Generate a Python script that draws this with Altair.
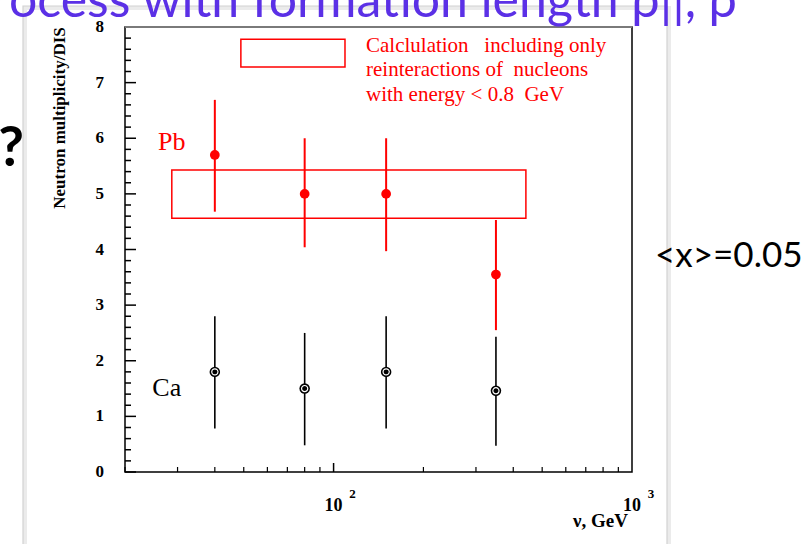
import altair as alt
import pandas as pd

# Neutron multiplicity per DIS event versus virtual photon energy nu
nu = [40, 80, 150, 350]
pb_mult = [5.70, 5.00, 5.00, 3.55]
pb_low = [4.68, 4.04, 3.97, 2.55]
pb_high = [6.69, 6.00, 6.00, 4.53]
ca_mult = [1.80, 1.50, 1.80, 1.46]
ca_low = [0.78, 0.48, 0.78, 0.47]
ca_high = [2.80, 2.50, 2.80, 2.43]

# Calculation band (only reinteractions of nucleons with E < 0.8 GeV)
band_nu = [28.7, 441.0]
band_mult = [4.56, 5.43]

# Legend sample box and its text
legend_box_nu = [48.9, 109.2]
legend_box_mult = [7.28, 7.78]
legend_lines = ["Calclulation\u00a0\u00a0\u00a0including only",
                "reinteractions of\u00a0\u00a0nucleons",
                "with energy < 0.8\u00a0\u00a0GeV"]
legend_line_mult = [7.66, 7.23, 6.78]
legend_text_nu = 128.4

# Target labels
target_names = ["Pb", "Ca"]
target_nu = [25.8, 24.7]
target_mult = [5.93, 1.51]
target_colors = ["red", "black"]

# Axis ticks and labels
y_major = list(range(0, 9))
y_minor = [i / 5 for i in range(41) if i % 5]
y_labels = list(range(0, 9))
x_major = [100]
x_minor = [20, 30, 40, 50, 60, 70, 80, 90, 200, 300, 400, 500, 600, 700, 800, 900]
decade_nu = [100, 1000]
decade_base = ["10", "10"]
decade_exp = ["2", "3"]

W, H = 507, 445
SERIF = "Liberation Serif"

points = pd.DataFrame({"nu": nu, "pb": pb_mult, "pb_lo": pb_low, "pb_hi": pb_high,
                       "ca": ca_mult, "ca_lo": ca_low, "ca_hi": ca_high})
band = pd.DataFrame({"x1": [band_nu[0]], "x2": [band_nu[1]],
                     "y1": [band_mult[0]], "y2": [band_mult[1]]})
lbox = pd.DataFrame({"x1": [legend_box_nu[0]], "x2": [legend_box_nu[1]],
                     "y1": [legend_box_mult[0]], "y2": [legend_box_mult[1]]})
ltext = pd.DataFrame({"t": legend_lines, "y": legend_line_mult,
                      "x": [legend_text_nu] * len(legend_lines)})
targets = pd.DataFrame({"t": target_names, "x": target_nu, "y": target_mult, "c": target_colors})
ymaj = pd.DataFrame({"v": y_major})
ymin = pd.DataFrame({"v": y_minor})
ylab = pd.DataFrame({"v": y_labels, "t": [str(v) for v in y_labels]})
xmaj = pd.DataFrame({"v": x_major})
xmin = pd.DataFrame({"v": x_minor})
decades = pd.DataFrame({"v": decade_nu, "b": decade_base, "e": decade_exp})
one = pd.DataFrame({"a": [0]})

xs = alt.Scale(type="log", domain=[20, 1000], nice=False)
ys = alt.Scale(domain=[0, 8], nice=False, zero=False)

# slide panel behind the figure
panel_shadow = alt.Chart(one).mark_rect(fillOpacity=0, stroke="#ebebeb", strokeWidth=4).encode(
    x=alt.value(-100), x2=alt.value(544), y=alt.value(-19), y2=alt.value(560))
panel = alt.Chart(one).mark_rect(fillOpacity=0, stroke="#d2d2d2", strokeWidth=1.2).encode(
    x=alt.value(-102), x2=alt.value(542), y=alt.value(-21), y2=alt.value(560))

band_rect = alt.Chart(band).mark_rect(fillOpacity=0, stroke="red", strokeWidth=1.5).encode(
    x=alt.X("x1:Q", scale=xs, axis=None), x2="x2:Q",
    y=alt.Y("y1:Q", scale=ys, axis=None), y2="y2:Q")
legend_rect = alt.Chart(lbox).mark_rect(fillOpacity=0, stroke="red", strokeWidth=1.5).encode(
    x=alt.X("x1:Q", scale=xs, axis=None), x2="x2:Q",
    y=alt.Y("y1:Q", scale=ys, axis=None), y2="y2:Q")
legend_txt = alt.Chart(ltext).mark_text(font=SERIF, fontSize=21, color="red", align="left",
                                        baseline="middle").encode(
    x=alt.X("x:Q", scale=xs, axis=None), y=alt.Y("y:Q", scale=ys, axis=None), text="t:N")

pb_err = alt.Chart(points).mark_rule(color="red", strokeWidth=2).encode(
    x=alt.X("nu:Q", scale=xs, axis=None), y=alt.Y("pb_lo:Q", scale=ys, axis=None), y2="pb_hi:Q")
pb_pt = alt.Chart(points).mark_point(shape="circle", filled=True, color="red", opacity=1,
                                     size=95).encode(
    x=alt.X("nu:Q", scale=xs, axis=None), y=alt.Y("pb:Q", scale=ys, axis=None))
ca_err = alt.Chart(points).mark_rule(color="black", strokeWidth=1.6).encode(
    x=alt.X("nu:Q", scale=xs, axis=None), y=alt.Y("ca_lo:Q", scale=ys, axis=None), y2="ca_hi:Q")
ca_pt = alt.Chart(points).mark_point(shape="circle", filled=True, color="black", opacity=1,
                                     size=110).encode(
    x=alt.X("nu:Q", scale=xs, axis=None), y=alt.Y("ca:Q", scale=ys, axis=None))
ca_ring = alt.Chart(points).mark_point(shape="circle", filled=False, color="white", opacity=1,
                                       size=38, strokeWidth=1.2).encode(
    x=alt.X("nu:Q", scale=xs, axis=None), y=alt.Y("ca:Q", scale=ys, axis=None))

target_txt = alt.Chart(targets).mark_text(font=SERIF, fontSize=26, align="left",
                                          baseline="middle").encode(
    x=alt.X("x:Q", scale=xs, axis=None), y=alt.Y("y:Q", scale=ys, axis=None), text="t:N",
    color=alt.Color("c:N", scale=None))

# inward ticks
ytick_major = alt.Chart(ymaj).mark_rule(color="black", strokeWidth=1.5).encode(
    y=alt.Y("v:Q", scale=ys, axis=None), x=alt.value(0), x2=alt.value(11))
ytick_minor = alt.Chart(ymin).mark_rule(color="black", strokeWidth=1.5).encode(
    y=alt.Y("v:Q", scale=ys, axis=None), x=alt.value(0), x2=alt.value(6))
xtick_major = alt.Chart(xmaj).mark_rule(color="black", strokeWidth=1.5).encode(
    x=alt.X("v:Q", scale=xs, axis=None), y=alt.value(H), y2=alt.value(H - 9))
xtick_minor = alt.Chart(xmin).mark_rule(color="black", strokeWidth=1.2).encode(
    x=alt.X("v:Q", scale=xs, axis=None), y=alt.value(H), y2=alt.value(H - 5))
top_edge = alt.Chart(one).mark_rule(color="#7a7a7a", strokeWidth=2).encode(
    x=alt.value(0), x2=alt.value(W), y=alt.value(0))

# y tick labels
ylabels = alt.Chart(ylab).mark_text(font=SERIF, fontSize=17, fontWeight="bold", color="black",
                                    align="right", baseline="middle").encode(
    y=alt.Y("v:Q", scale=ys, axis=None), x=alt.value(-21), text="t:N")

# decade labels 10^2, 10^3
dec_base = alt.Chart(decades).mark_text(font=SERIF, fontSize=18, fontWeight="bold",
                                        color="black", baseline="middle", align="center").encode(
    x=alt.X("v:Q", scale=xs, axis=None), y=alt.value(H + 34), text="b:N")
dec_exp = alt.Chart(decades).mark_text(font=SERIF, fontSize=13, fontWeight="bold",
                                       color="black", baseline="middle", align="center",
                                       dx=19).encode(
    x=alt.X("v:Q", scale=xs, axis=None), y=alt.value(H + 22), text="e:N")

x_title = alt.Chart(one).mark_text(font=SERIF, fontSize=19, fontWeight="bold", color="black",
                                   align="right", baseline="middle",
                                   text="\u03bd, GeV").encode(
    x=alt.value(W - 4), y=alt.value(H + 49))
y_title = alt.Chart(one).mark_text(font=SERIF, fontSize=17, fontWeight="bold", color="black",
                                   align="center", baseline="middle", angle=270,
                                   text="Neutron multiplicity/DIS").encode(
    x=alt.value(-65), y=alt.value(91))

# slide text around the figure
heading = alt.Chart(one).mark_text(font="Lato", fontSize=50, color="#5b30e6", align="right",
                                   baseline="alphabetic",
                                   text="rocess with formation length \u03c1||, \u03c1").encode(
    x=alt.value(737 - 125), y=alt.value(17 - 27))
question = alt.Chart(one).mark_text(font="Lato", fontSize=56, fontWeight="bold", color="black",
                                    align="center", baseline="alphabetic", text="?").encode(
    x=alt.value(11 - 125), y=alt.value(166 - 27))
xmean = alt.Chart(one).mark_text(font="Lato", fontSize=35, color="black", align="left",
                                 baseline="middle", text="<x>=0.05").encode(
    x=alt.value(655 - 125), y=alt.value(256 - 27))

chart = alt.layer(
    panel_shadow, panel, band_rect, legend_rect, legend_txt,
    ca_err, ca_pt, ca_ring, pb_err, pb_pt, target_txt,
    ytick_major, ytick_minor, xtick_major, xtick_minor, top_edge, ylabels,
    dec_base, dec_exp, x_title, y_title, heading, question, xmean
).properties(
    width=W, height=H,
    padding={"left": 125, "top": 27, "right": 173, "bottom": 72},
    autosize=alt.AutoSizeParams(type="none"),
    background="white",
).configure_view(stroke="black", strokeWidth=1.5)

chart.save("out.html", embed_options={"renderer": "svg", "actions": False})
